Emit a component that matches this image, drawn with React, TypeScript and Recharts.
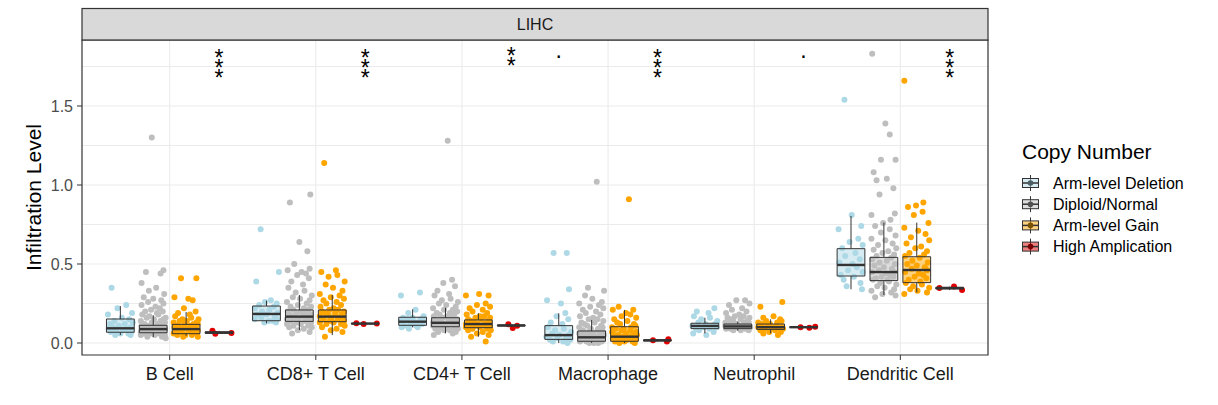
import React from 'react';
import { ComposedChart, Scatter, XAxis, YAxis, CartesianGrid, ReferenceArea, ReferenceLine } from 'recharts';

const CELLS = ['B Cell', 'CD8+ T Cell', 'CD4+ T Cell', 'Macrophage', 'Neutrophil', 'Dendritic Cell'];
const GROUPS = ['Arm-level Deletion', 'Diploid/Normal', 'Arm-level Gain', 'High Amplication'];
const COLORS = ['#ADD8E6', '#BEBEBE', '#FFA500', '#E00000'];
const KEY_DOTS = ['#4a5d63', '#505050', '#7a5300', '#7a0000'];

// box stats: [lower whisker, q1, median, q3, upper whisker]
const BOX_DEL = [
  [0.05, 0.068, 0.093, 0.152, 0.234],
  [0.125, 0.141, 0.184, 0.234, 0.268],
  [0.099, 0.112, 0.135, 0.163, 0.213],
  [0.0, 0.023, 0.05, 0.11, 0.188],
  [0.061, 0.091, 0.108, 0.125, 0.16],
  [0.34, 0.424, 0.494, 0.597, 0.804],
];
const BOX_DIP = [
  [0.038, 0.065, 0.088, 0.112, 0.175],
  [0.082, 0.137, 0.167, 0.209, 0.304],
  [0.061, 0.103, 0.128, 0.16, 0.223],
  [0.0, 0.011, 0.036, 0.076, 0.146],
  [0.078, 0.091, 0.105, 0.12, 0.135],
  [0.304, 0.395, 0.449, 0.542, 0.762],
];
const BOX_GAIN = [
  [0.046, 0.059, 0.088, 0.118, 0.196],
  [0.05, 0.135, 0.167, 0.209, 0.304],
  [0.04, 0.097, 0.12, 0.146, 0.188],
  [0.0, 0.011, 0.04, 0.103, 0.209],
  [0.061, 0.086, 0.1, 0.12, 0.15],
  [0.32, 0.382, 0.462, 0.546, 0.762],
];
const BOX_HIGH = [
  [0.059, 0.0615, 0.066, 0.0705, 0.077],
  [0.12, 0.121, 0.123, 0.124, 0.125],
  [0.105, 0.108, 0.111, 0.114, 0.118],
  [0.009, 0.013, 0.017, 0.02, 0.024],
  [0.097, 0.099, 0.1, 0.102, 0.103],
  [0.335, 0.342, 0.348, 0.352, 0.357],
];

const PTS_DEL = [
  [0.35, 0.24, 0.22, 0.19, 0.18, 0.16, 0.15, 0.14, 0.13, 0.12, 0.12, 0.11, 0.10, 0.10, 0.09, 0.09, 0.08, 0.08, 0.07, 0.07, 0.06, 0.06, 0.05, 0.05],
  [0.72, 0.45, 0.39, 0.27, 0.26, 0.25, 0.24, 0.23, 0.22, 0.21, 0.20, 0.19, 0.18, 0.18, 0.17, 0.16, 0.15, 0.15, 0.14, 0.14, 0.13, 0.13],
  [0.32, 0.30, 0.21, 0.19, 0.17, 0.16, 0.16, 0.15, 0.15, 0.14, 0.14, 0.13, 0.13, 0.12, 0.12, 0.11, 0.11, 0.10, 0.10, 0.09],
  [0.57, 0.57, 0.34, 0.27, 0.25, 0.19, 0.17, 0.15, 0.13, 0.12, 0.10, 0.09, 0.08, 0.07, 0.06, 0.05, 0.05, 0.04, 0.03, 0.03, 0.02, 0.02, 0.01, 0.01, 0.00],
  [0.22, 0.20, 0.19, 0.17, 0.16, 0.15, 0.14, 0.13, 0.12, 0.12, 0.11, 0.11, 0.10, 0.10, 0.09, 0.09, 0.08, 0.07, 0.06, 0.05],
  [1.54, 0.81, 0.74, 0.72, 0.66, 0.64, 0.62, 0.60, 0.57, 0.55, 0.53, 0.51, 0.50, 0.48, 0.46, 0.45, 0.43, 0.42, 0.40, 0.38, 0.36, 0.34],
];
const PTS_DIP = [
  [1.30, 0.46, 0.45, 0.44, 0.38, 0.35, 0.33, 0.31, 0.29, 0.28, 0.27, 0.26, 0.25, 0.24, 0.23, 0.22, 0.21, 0.20, 0.20, 0.19, 0.18, 0.18, 0.17, 0.16, 0.16, 0.15, 0.15, 0.14, 0.14, 0.13, 0.13, 0.12, 0.12, 0.11, 0.11, 0.11, 0.10, 0.10, 0.10, 0.09, 0.09, 0.09, 0.08, 0.08, 0.08, 0.08, 0.07, 0.07, 0.07, 0.06, 0.06, 0.06, 0.05, 0.05, 0.05, 0.04, 0.04, 0.03],
  [0.94, 0.89, 0.64, 0.58, 0.50, 0.47, 0.46, 0.45, 0.44, 0.43, 0.41, 0.39, 0.37, 0.35, 0.33, 0.32, 0.30, 0.29, 0.28, 0.27, 0.26, 0.25, 0.24, 0.23, 0.23, 0.22, 0.21, 0.21, 0.20, 0.20, 0.19, 0.19, 0.18, 0.18, 0.17, 0.17, 0.17, 0.16, 0.16, 0.15, 0.15, 0.15, 0.14, 0.14, 0.13, 0.13, 0.12, 0.12, 0.11, 0.11, 0.10, 0.10, 0.09, 0.08, 0.07, 0.06],
  [1.28, 0.40, 0.38, 0.36, 0.33, 0.31, 0.30, 0.28, 0.27, 0.26, 0.25, 0.24, 0.23, 0.22, 0.21, 0.21, 0.20, 0.19, 0.19, 0.18, 0.18, 0.17, 0.17, 0.16, 0.16, 0.15, 0.15, 0.15, 0.14, 0.14, 0.14, 0.13, 0.13, 0.13, 0.12, 0.12, 0.12, 0.11, 0.11, 0.11, 0.10, 0.10, 0.10, 0.09, 0.09, 0.08, 0.08, 0.07, 0.07, 0.06, 0.05],
  [1.02, 0.35, 0.33, 0.30, 0.28, 0.26, 0.25, 0.24, 0.23, 0.22, 0.21, 0.20, 0.19, 0.18, 0.17, 0.16, 0.15, 0.15, 0.14, 0.13, 0.13, 0.12, 0.11, 0.11, 0.10, 0.10, 0.09, 0.09, 0.08, 0.08, 0.07, 0.07, 0.06, 0.06, 0.06, 0.05, 0.05, 0.05, 0.04, 0.04, 0.04, 0.03, 0.03, 0.03, 0.03, 0.02, 0.02, 0.02, 0.02, 0.01, 0.01, 0.01, 0.01, 0.00, 0.00, 0.00],
  [0.27, 0.27, 0.25, 0.24, 0.22, 0.21, 0.20, 0.19, 0.18, 0.17, 0.17, 0.16, 0.16, 0.15, 0.15, 0.14, 0.14, 0.13, 0.13, 0.13, 0.12, 0.12, 0.12, 0.12, 0.11, 0.11, 0.11, 0.11, 0.10, 0.10, 0.10, 0.10, 0.10, 0.09, 0.09, 0.09, 0.09, 0.08, 0.08, 0.08],
  [1.83, 1.39, 1.32, 1.16, 1.16, 1.08, 1.04, 1.03, 0.98, 0.94, 0.82, 0.81, 0.78, 0.76, 0.74, 0.72, 0.70, 0.68, 0.66, 0.65, 0.63, 0.62, 0.60, 0.59, 0.58, 0.57, 0.56, 0.55, 0.54, 0.53, 0.52, 0.51, 0.50, 0.49, 0.48, 0.47, 0.46, 0.45, 0.45, 0.44, 0.43, 0.42, 0.42, 0.41, 0.40, 0.40, 0.39, 0.38, 0.37, 0.36, 0.35, 0.34, 0.33, 0.32, 0.31, 0.30, 0.29],
];
const PTS_GAIN = [
  [0.41, 0.41, 0.29, 0.28, 0.27, 0.22, 0.20, 0.19, 0.18, 0.17, 0.16, 0.15, 0.15, 0.14, 0.14, 0.13, 0.13, 0.12, 0.12, 0.12, 0.11, 0.11, 0.10, 0.10, 0.10, 0.09, 0.09, 0.09, 0.08, 0.08, 0.08, 0.07, 0.07, 0.07, 0.06, 0.06, 0.06, 0.05, 0.05, 0.05, 0.04, 0.04],
  [1.14, 0.46, 0.45, 0.43, 0.42, 0.39, 0.37, 0.35, 0.33, 0.31, 0.30, 0.29, 0.28, 0.27, 0.26, 0.25, 0.24, 0.23, 0.22, 0.21, 0.21, 0.20, 0.20, 0.19, 0.19, 0.18, 0.18, 0.17, 0.17, 0.16, 0.16, 0.15, 0.15, 0.14, 0.14, 0.13, 0.13, 0.12, 0.12, 0.11, 0.10, 0.09, 0.08, 0.07, 0.04],
  [0.31, 0.30, 0.30, 0.25, 0.24, 0.23, 0.22, 0.21, 0.20, 0.19, 0.18, 0.17, 0.17, 0.16, 0.16, 0.15, 0.15, 0.14, 0.14, 0.13, 0.13, 0.12, 0.12, 0.12, 0.11, 0.11, 0.11, 0.10, 0.10, 0.10, 0.09, 0.09, 0.08, 0.08, 0.07, 0.06, 0.05, 0.04, 0.01],
  [0.91, 0.23, 0.21, 0.21, 0.19, 0.18, 0.17, 0.16, 0.15, 0.14, 0.13, 0.12, 0.12, 0.11, 0.10, 0.10, 0.09, 0.09, 0.08, 0.08, 0.07, 0.07, 0.06, 0.06, 0.05, 0.05, 0.05, 0.04, 0.04, 0.04, 0.03, 0.03, 0.03, 0.02, 0.02, 0.02, 0.01, 0.01, 0.01, 0.00, 0.00],
  [0.26, 0.23, 0.17, 0.16, 0.15, 0.14, 0.14, 0.13, 0.13, 0.12, 0.12, 0.11, 0.11, 0.10, 0.10, 0.10, 0.09, 0.09, 0.09, 0.08, 0.08, 0.07, 0.07, 0.06, 0.05],
  [1.66, 0.89, 0.87, 0.86, 0.83, 0.81, 0.76, 0.73, 0.71, 0.69, 0.67, 0.65, 0.63, 0.61, 0.60, 0.58, 0.57, 0.56, 0.55, 0.54, 0.52, 0.51, 0.50, 0.49, 0.48, 0.47, 0.46, 0.45, 0.44, 0.43, 0.42, 0.41, 0.40, 0.39, 0.38, 0.37, 0.36, 0.35, 0.34, 0.33, 0.32, 0.31],
];
const PTS_HIGH = [
  [0.059, 0.064, 0.077],
  [0.12, 0.123, 0.125],
  [0.095, 0.11, 0.118],
  [0.009, 0.017, 0.024],
  [0.097, 0.1, 0.103],
  [0.335, 0.348, 0.357],
];

// hand-typed jitter offsets (x units)
const JITTER = [-0.06, 0.04, -0.02, 0.08, -0.085, 0.01, 0.06, -0.04, 0.085, -0.07, 0.03, -0.01, 0.07, -0.05, 0.05, -0.08, 0.02, -0.03, 0.075, -0.065, 0.0, 0.055, -0.035, 0.07, -0.08, 0.015, 0.045, -0.015, 0.065, -0.055, 0.025, -0.075, 0.035, -0.025, 0.085, -0.045, 0.005, 0.07, -0.085, 0.05, -0.01, 0.08, -0.06, 0.03, -0.04, 0.06, -0.08, 0.01, 0.04, -0.02, 0.08, -0.07, 0.02, -0.05, 0.065, -0.03, 0.075, -0.085, 0.045, -0.005];

// significance marks: value is the centre of the first glyph
const SIG_CELL = [0, 1, 2, 3, 3, 4, 5];
const SIG_GROUP = [3, 3, 3, 0, 3, 3, 3];
const SIG_TEXT = ['***', '***', '**', '.', '***', '.', '***'];
const SIG_Y = [1.835, 1.835, 1.848, 1.808, 1.835, 1.808, 1.835];

const Y_TICKS = [0, 0.5, 1, 1.5];
const Y_GRID = [0, 0.25, 0.5, 0.75, 1, 1.25, 1.5, 1.75];
const X_TICKS = [0, 1, 2, 3, 4, 5];

// layout constants
const DODGE = [-0.3375, -0.1125, 0.1125, 0.3375];
const HALF = 0.095;
const X_DOMAIN: [number, number] = [-0.6, 5.6];
const Y_DOMAIN: [number, number] = [-0.0759, 1.9177];
const FONT = '"Liberation Sans", Arial, Helvetica, sans-serif';

const BOXES = [BOX_DEL, BOX_DIP, BOX_GAIN, BOX_HIGH];
const POINTS = [PTS_DEL, PTS_DIP, PTS_GAIN, PTS_HIGH];

const pointSeries: { key: string; color: string; data: { x: number; y: number }[] }[] = [];
POINTS.forEach((byCell, g) => {
  byCell.forEach((ys, c) => {
    pointSeries.push({
      key: `p-${g}-${c}`,
      color: COLORS[g],
      data: ys.map((y, i) => ({ x: c + DODGE[g] + JITTER[(i + 11 * g + 7 * c) % JITTER.length], y })),
    });
  });
});

const boxes: { key: string; g: number; c: number; s: number[]; x: number }[] = [];
BOXES.forEach((byCell, g) => byCell.forEach((s, c) => boxes.push({ key: `b-${g}-${c}`, g, c, s, x: c + DODGE[g] })));

const sigData = SIG_TEXT.map((label, i) => ({ x: SIG_CELL[i] + DODGE[SIG_GROUP[i]], y: SIG_Y[i], label }));

// vertical text (runs downward) with every glyph turned back upright
const SigShape = (p: any) => {
  const label = String(p.payload.label);
  const fs = 23;
  const step = 9.8;
  const isStar = label.startsWith('*');
  const adv = (isStar ? 0.389 : 0.278) * fs;
  const x0 = p.cx - (isStar ? 0.195 : 0.14) * fs;
  const y0 = p.cy + (isStar ? 0.575 : 0.05) * fs;
  return (
    <text
      x={x0}
      y={y0}
      rotate={-90}
      transform={`rotate(90, ${x0}, ${y0})`}
      fontSize={fs}
      fontFamily={FONT}
      fill="#000"
      style={{ letterSpacing: `${step - adv}px` }}
    >
      {label}
    </text>
  );
};

const YLabel = (props: any) => {
  const vb = props.viewBox || { x: 0, y: 40, width: 82, height: 315 };
  const cx = 33;
  const cy = vb.y + vb.height / 2;
  return (
    <text x={cx} y={cy} transform={`rotate(-90, ${cx}, ${cy})`} textAnchor="middle" dominantBaseline="central" fontSize={21} fontFamily={FONT} fill="#000">
      Infiltration Level
    </text>
  );
};

export default function App() {
  return (
    <div style={{ position: 'absolute', left: 0, top: 0, width: 1218, height: 405, background: '#fff', fontFamily: FONT }}>
      <ComposedChart width={1218} height={405} margin={{ top: 40, right: 230, bottom: 0, left: 0 }}>
        <CartesianGrid horizontalValues={Y_GRID} verticalValues={X_TICKS} stroke="#EBEBEB" strokeWidth={1.1} />
        <XAxis
          type="number"
          dataKey="x"
          domain={X_DOMAIN}
          ticks={X_TICKS}
          allowDataOverflow
          height={50}
          axisLine={false}
          tickLine={{ stroke: '#333333' }}
          tickSize={5}
          tickMargin={7}
          tickFormatter={(v: number) => CELLS[Math.round(v)]}
          tick={{ fill: '#1a1a1a', fontSize: 18, fontFamily: FONT }}
          interval={0}
        />
        <YAxis
          type="number"
          dataKey="y"
          domain={Y_DOMAIN}
          ticks={Y_TICKS}
          allowDataOverflow
          width={82}
          axisLine={false}
          tickLine={{ stroke: '#333333' }}
          tickSize={5}
          tickMargin={4}
          tickFormatter={(v: number) => v.toFixed(1)}
          tick={{ fill: '#4d4d4d', fontSize: 16, fontFamily: FONT }}
          label={{ content: YLabel }}
        />
        {pointSeries.map((s) => (
          <Scatter
            key={s.key}
            data={s.data}
            dataKey="y"
            isAnimationActive={false}
            shape={(p: any) => <circle cx={p.cx} cy={p.cy} r={3} fill={s.color} />}
          />
        ))}
        {boxes.map((b) => (
          <ReferenceLine key={`wl-${b.key}`} segment={[{ x: b.x, y: b.s[0] }, { x: b.x, y: b.s[1] }]} stroke="#333333" strokeWidth={1} ifOverflow="visible" zIndex={650} />
        ))}
        {boxes.map((b) => (
          <ReferenceLine key={`wu-${b.key}`} segment={[{ x: b.x, y: b.s[3] }, { x: b.x, y: b.s[4] }]} stroke="#333333" strokeWidth={1} ifOverflow="visible" zIndex={650} />
        ))}
        {boxes.map((b) => (
          <ReferenceArea
            key={`bx-${b.key}`}
            x1={b.x - HALF}
            x2={b.x + HALF}
            y1={b.s[1]}
            y2={b.s[3]}
            fill={COLORS[b.g]}
            fillOpacity={0.5}
            stroke="#333333"
            strokeOpacity={1}
            strokeWidth={1}
            ifOverflow="visible"
            zIndex={700}
          />
        ))}
        {boxes.map((b) => (
          <ReferenceLine key={`md-${b.key}`} segment={[{ x: b.x - HALF, y: b.s[2] }, { x: b.x + HALF, y: b.s[2] }]} stroke="#333333" strokeWidth={2.4} ifOverflow="visible" zIndex={750} />
        ))}
        <ReferenceArea x1={X_DOMAIN[0]} x2={X_DOMAIN[1]} y1={Y_DOMAIN[0]} y2={Y_DOMAIN[1]} fill="none" fillOpacity={0} stroke="#333333" strokeWidth={1.2} strokeOpacity={1} ifOverflow="visible" zIndex={800} />
        <Scatter data={sigData} dataKey="y" isAnimationActive={false} shape={SigShape} zIndex={900} />
      </ComposedChart>
      <svg width={1218} height={405} style={{ position: 'absolute', left: 0, top: 0, pointerEvents: 'none' }}>
        <rect x={82} y={8.5} width={906} height={31.5} fill="#D9D9D9" stroke="#333333" strokeWidth={1.2} />
        <text x={535} y={24.5} textAnchor="middle" dominantBaseline="central" fontSize={16} fontFamily={FONT} fill="#1a1a1a">
          LIHC
        </text>
        <text x={1022} y={159} fontSize={21} fontFamily={FONT} fill="#000">
          Copy Number
        </text>
        {GROUPS.map((name, i) => {
          const cy = 183 + i * 21.2;
          return (
            <g key={name}>
              <line x1={1030.5} x2={1030.5} y1={cy - 8} y2={cy + 8} stroke="#333333" strokeWidth={1} />
              <rect x={1022.5} y={cy - 4.5} width={16} height={9} fill={COLORS[i]} fillOpacity={0.5} stroke="#333333" strokeWidth={1} />
              <line x1={1022.5} x2={1038.5} y1={cy} y2={cy} stroke="#333333" strokeWidth={1.5} />
              <circle cx={1030.5} cy={cy} r={2.8} fill={KEY_DOTS[i]} />
              <text x={1053} y={cy} dominantBaseline="central" fontSize={16} fontFamily={FONT} fill="#000">
                {name}
              </text>
            </g>
          );
        })}
      </svg>
    </div>
  );
}
